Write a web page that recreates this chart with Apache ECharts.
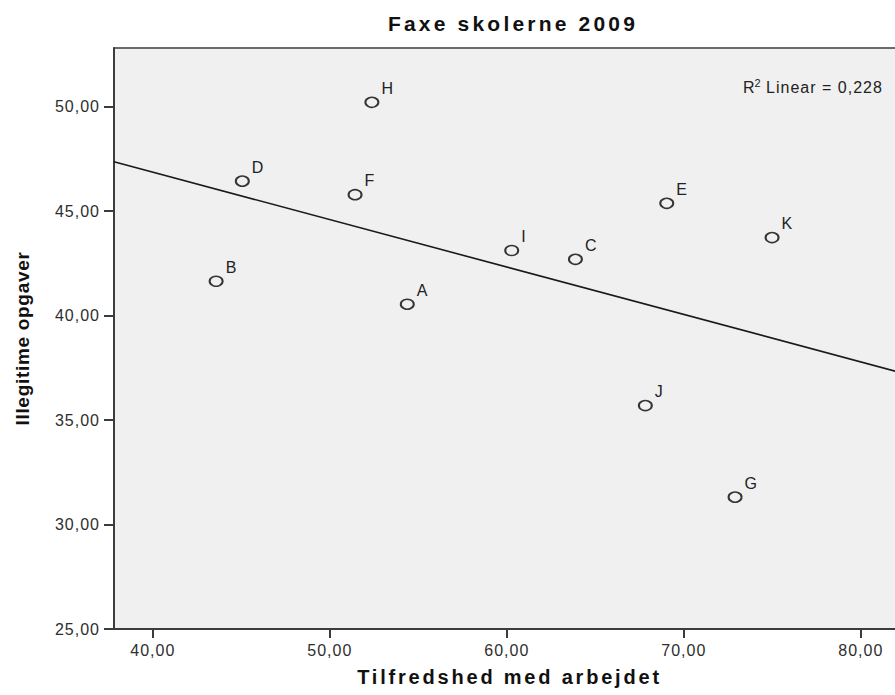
<!DOCTYPE html>
<html>
<head>
<meta charset="utf-8">
<script src="https://cdn.jsdelivr.net/npm/echarts@6/dist/echarts.min.js"></script>
<style>
  html, body { margin: 0; padding: 0; background: #ffffff; }
  #chart { width: 895px; height: 695px; }
  /* SPSS-style airy lettering */
  #chart text { letter-spacing: 1px; }
  #chart text[style*="21px"] { letter-spacing: 3.2px; }
  #chart text[style*="20px"] { letter-spacing: 2.8px; }
  #chart text[style*="19px"] { letter-spacing: 0.7px; }
</style>
</head>
<body>
<div id="chart"></div>
<script>
// Schools and their scores
const schools = ['A', 'B', 'C', 'D', 'E', 'F', 'G', 'H', 'I', 'J', 'K'];
const satisfaction = [54.38, 43.58, 63.88, 45.06, 69.04, 51.43, 72.90, 52.38, 60.28, 67.83, 74.99];
const illegitimate = [40.54, 41.64, 42.69, 46.43, 45.37, 45.78, 31.31, 50.20, 43.11, 35.69, 43.73];

// Axis ticks and visible ranges
const xTicks = [40, 50, 60, 70, 80];
const yTicks = [25, 30, 35, 40, 45, 50];
const xRange = [37.81, 82.5];
const yRange = [25, 52.8];

const titleText = 'Faxe skolerne 2009';
const xName = 'Tilfredshed med arbejdet';
const yName = 'Illegitime opgaver';
const r2Text = '0,228';

// Ordinary least squares fit for the reference line
const n = satisfaction.length;
const mx = satisfaction.reduce((s, v) => s + v, 0) / n;
const my = illegitimate.reduce((s, v) => s + v, 0) / n;
let sxy = 0, sxx = 0;
for (let i = 0; i < n; i++) {
  sxy += (satisfaction[i] - mx) * (illegitimate[i] - my);
  sxx += (satisfaction[i] - mx) ** 2;
}
const slope = sxy / sxx;
const intercept = my - slope * mx;
const fitLine = xRange.map(x => [x, intercept + slope * x]);

const fmt = v => v.toFixed(2).replace('.', ',');
const axisColor = '#3c3c3c';
const font = "'Liberation Sans', Arial, sans-serif";

const chart = echarts.init(document.getElementById('chart'), null, { renderer: 'svg' });
chart.setOption({
  animation: false,
  backgroundColor: '#ffffff',
  grid: {
    left: 114, right: -10, top: 48, bottom: 66,
    show: true, backgroundColor: '#f0f0f0',
    borderColor: axisColor, borderWidth: 1.5,
    outerBoundsMode: 'none'
  },
  xAxis: {
    type: 'value', min: xRange[0], max: xRange[1],
    name: xName, nameLocation: 'middle', nameGap: 38,
    nameTextStyle: { fontFamily: font, fontWeight: 'bold', fontSize: 20, color: '#111' },
    axisLine: { show: true, lineStyle: { color: axisColor, width: 2 } },
    axisTick: { show: true, length: 9, lineStyle: { color: axisColor, width: 2 }, customValues: xTicks },
    axisLabel: { margin: 13, fontFamily: font, fontSize: 16, color: '#2e2e2e', customValues: xTicks, formatter: fmt },
    splitLine: { show: false }
  },
  yAxis: {
    type: 'value', min: yRange[0], max: yRange[1],
    name: yName, nameLocation: 'middle', nameGap: 82, nameRotate: 90,
    nameTextStyle: { fontFamily: font, fontWeight: 'bold', fontSize: 19, color: '#111' },
    axisLine: { show: true, lineStyle: { color: axisColor, width: 2 } },
    axisTick: { show: true, length: 10, lineStyle: { color: axisColor, width: 2 }, customValues: yTicks },
    axisLabel: { margin: 14, fontFamily: font, fontSize: 16, color: '#2e2e2e', customValues: yTicks, formatter: fmt },
    splitLine: { show: false }
  },
  graphic: [
    {
      type: 'text', x: 513, y: 23, silent: true,
      style: { text: titleText, fontFamily: font, fontWeight: 'bold', fontSize: 21, fill: '#111',
               textAlign: 'center', textVerticalAlign: 'middle' }
    },
    {
      type: 'text', x: 743, y: 87, silent: true,
      style: {
        text: '{r|R}{s|2}{r| Linear = ' + r2Text + '}',
        textVerticalAlign: 'middle',
        rich: {
          r: { fontFamily: font, fontSize: 16, fill: '#222', lineHeight: 20 },
          s: { fontFamily: font, fontSize: 11, fill: '#222', verticalAlign: 'top', lineHeight: 20 }
        }
      }
    }
  ],
  series: [
    {
      type: 'line', data: fitLine, showSymbol: false, silent: true, clip: true,
      lineStyle: { color: '#1a1a1a', width: 1.6 }, z: 2
    },
    {
      type: 'scatter', z: 3,
      data: schools.map((s, i) => ({ name: s, value: [satisfaction[i], illegitimate[i]] })),
      symbol: 'circle', symbolSize: [13, 10],
      itemStyle: { color: 'rgba(0,0,0,0)', borderColor: '#353535', borderWidth: 1.8, opacity: 1 },
      label: {
        show: true, position: 'right', distance: 2, offset: [0, -14],
        formatter: p => p.name,
        fontFamily: font, fontSize: 16, color: '#222'
      }
    }
  ]
});
</script>
</body>
</html>
